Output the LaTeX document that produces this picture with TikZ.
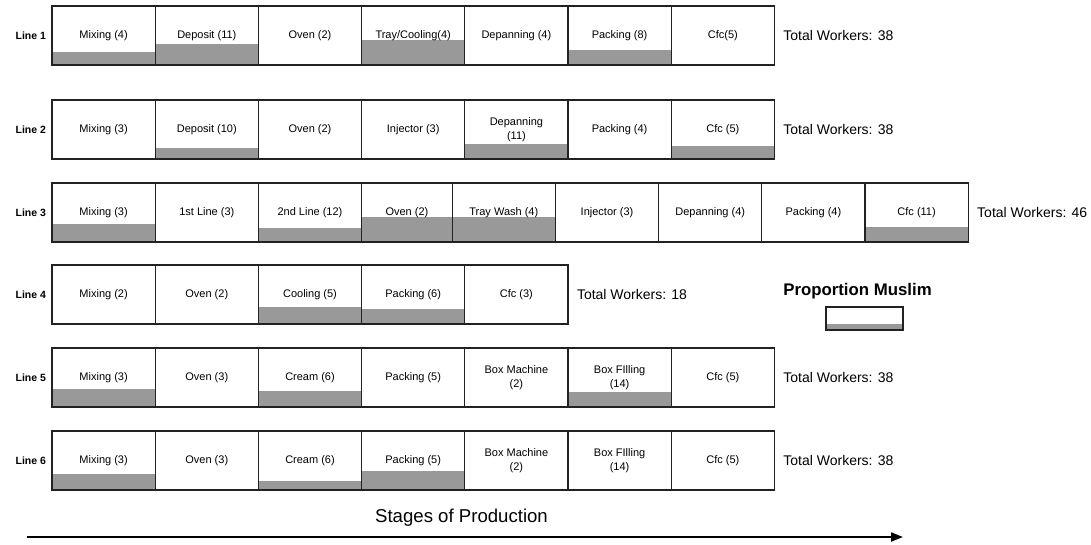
\documentclass[tikz,border=0pt]{standalone}
\usepackage{fontspec}
\setmainfont{Liberation Sans}
\usepackage{xcolor}
\usetikzlibrary{arrows.meta,positioning}
\definecolor{muslim}{HTML}{999999}
\definecolor{edge}{HTML}{222222}

\begin{document}
\begin{tikzpicture}[x=1pt, y=-1pt,
  node distance=0pt,
  every node/.style={inner sep=0pt, outer sep=0pt},
  stage/.style={draw=edge, line width=1.3pt, minimum width=103.2pt,
                minimum height=59pt, align=center, anchor=west,
                font=\fontsize{11}{13.5}\selectfont},
  share/.style={path picture={\fill[muslim]
                (path picture bounding box.south west) rectangle
                ([yshift=#1pt]path picture bounding box.south east);}},
  linelab/.style={font=\bfseries\fontsize{10.5}{12}\selectfont},
  total/.style={font=\fontsize{14}{16}\selectfont},
  line/.style={-{Triangle[length=12pt,width=9pt]}, line width=2pt}
]
\useasboundingbox (0,0) rectangle (1091,544);

% Line 1
\node[stage, share=13] (a1) at (52,35.5) {Mixing (4)};
\node[stage, share=21, right=of a1] (a2) {Deposit (11)};
\node[stage, right=of a2] (a3) {Oven (2)};
\node[stage, share=25, right=of a3] (a4) {Tray/Cooling(4)};
\node[stage, right=of a4] (a5) {Depanning (4)};
\node[stage, share=15, right=of a5] (a6) {Packing (8)};
\node[stage, right=of a6] (a7) {Cfc(5)};
\node[linelab, left=6pt of a1] (l1) {Line 1};
\node[total, right=9pt of a7] (t1) {Total Workers: 38};

% Line 2
\node[stage] (b1) at (52,129.5) {Mixing (3)};
\node[stage, share=11.5, right=of b1] (b2) {Deposit (10)};
\node[stage, right=of b2] (b3) {Oven (2)};
\node[stage, right=of b3] (b4) {Injector (3)};
\node[stage, share=15.5, right=of b4] (b5) {Depanning\\(11)};
\node[stage, right=of b5] (b6) {Packing (4)};
\node[stage, share=13, right=of b6] (b7) {Cfc (5)};
\node[linelab, left=6pt of b1] (l2) {Line 2};
\node[total, right=9pt of b7] (t2) {Total Workers: 38};

% Line 3
\node[stage, share=18] (c1) at (52,212.5) {Mixing (3)};
\node[stage, right=of c1] (c2) {1st Line (3)};
\node[stage, share=14.5, right=of c2] (c3) {2nd Line (12)};
\node[stage, share=25.5, minimum width=90.6pt, right=of c3] (c4) {Oven (2)};
\node[stage, share=25.5, right=of c4] (c5) {Tray Wash (4)};
\node[stage, right=of c5] (c6) {Injector (3)};
\node[stage, right=of c6] (c7) {Depanning (4)};
\node[stage, right=of c7] (c8) {Packing (4)};
\node[stage, share=15, right=of c8] (c9) {Cfc (11)};
\node[linelab, left=6pt of c1] (l3) {Line 3};
\node[total, right=9pt of c9] (t3) {Total Workers: 46};

% Line 4
\node[stage] (d1) at (52,294.5) {Mixing (2)};
\node[stage, right=of d1] (d2) {Oven (2)};
\node[stage, share=17.5, right=of d2] (d3) {Cooling (5)};
\node[stage, share=15, right=of d3] (d4) {Packing (6)};
\node[stage, right=of d4] (d5) {Cfc (3)};
\node[linelab, left=6pt of d1] (l4) {Line 4};
\node[total, right=9pt of d5] (t4) {Total Workers: 18};

% Line 5
\node[stage, share=18] (e1) at (52,377.5) {Mixing (3)};
\node[stage, right=of e1] (e2) {Oven (3)};
\node[stage, share=16.5, right=of e2] (e3) {Cream (6)};
\node[stage, right=of e3] (e4) {Packing (5)};
\node[stage, right=of e4] (e5) {Box Machine\\(2)};
\node[stage, share=15.5, right=of e5] (e6) {Box FIlling\\(14)};
\node[stage, right=of e6] (e7) {Cfc (5)};
\node[linelab, left=6pt of e1] (l5) {Line 5};
\node[total, right=9pt of e7] (t5) {Total Workers: 38};

% Line 6
\node[stage, share=16.5] (f1) at (52,460.5) {Mixing (3)};
\node[stage, right=of f1] (f2) {Oven (3)};
\node[stage, share=9, right=of f2] (f3) {Cream (6)};
\node[stage, share=19, right=of f3] (f4) {Packing (5)};
\node[stage, right=of f4] (f5) {Box Machine\\(2)};
\node[stage, right=of f5] (f6) {Box FIlling\\(14)};
\node[stage, right=of f6] (f7) {Cfc (5)};
\node[linelab, left=6pt of f1] (l6) {Line 6};
\node[total, right=9pt of f7] (t6) {Total Workers: 38};

% key
\node[font=\bfseries\fontsize{16.8}{18}\selectfont] (keytitle) at (857.5,291) {Proportion Muslim};
\node[draw=edge, line width=1.3pt, minimum width=77pt, minimum height=23pt,
      share=6] (key) at (864.5,318.5) {};

% stages arrow
\node[font=\fontsize{18.6}{20}\selectfont] (stages) at (461.5,518) {Stages of Production};
\coordinate (start) at (27,537);
\coordinate (finish) at (903,537);
\draw[line] (start) -- (finish);
\end{tikzpicture}
\end{document}
